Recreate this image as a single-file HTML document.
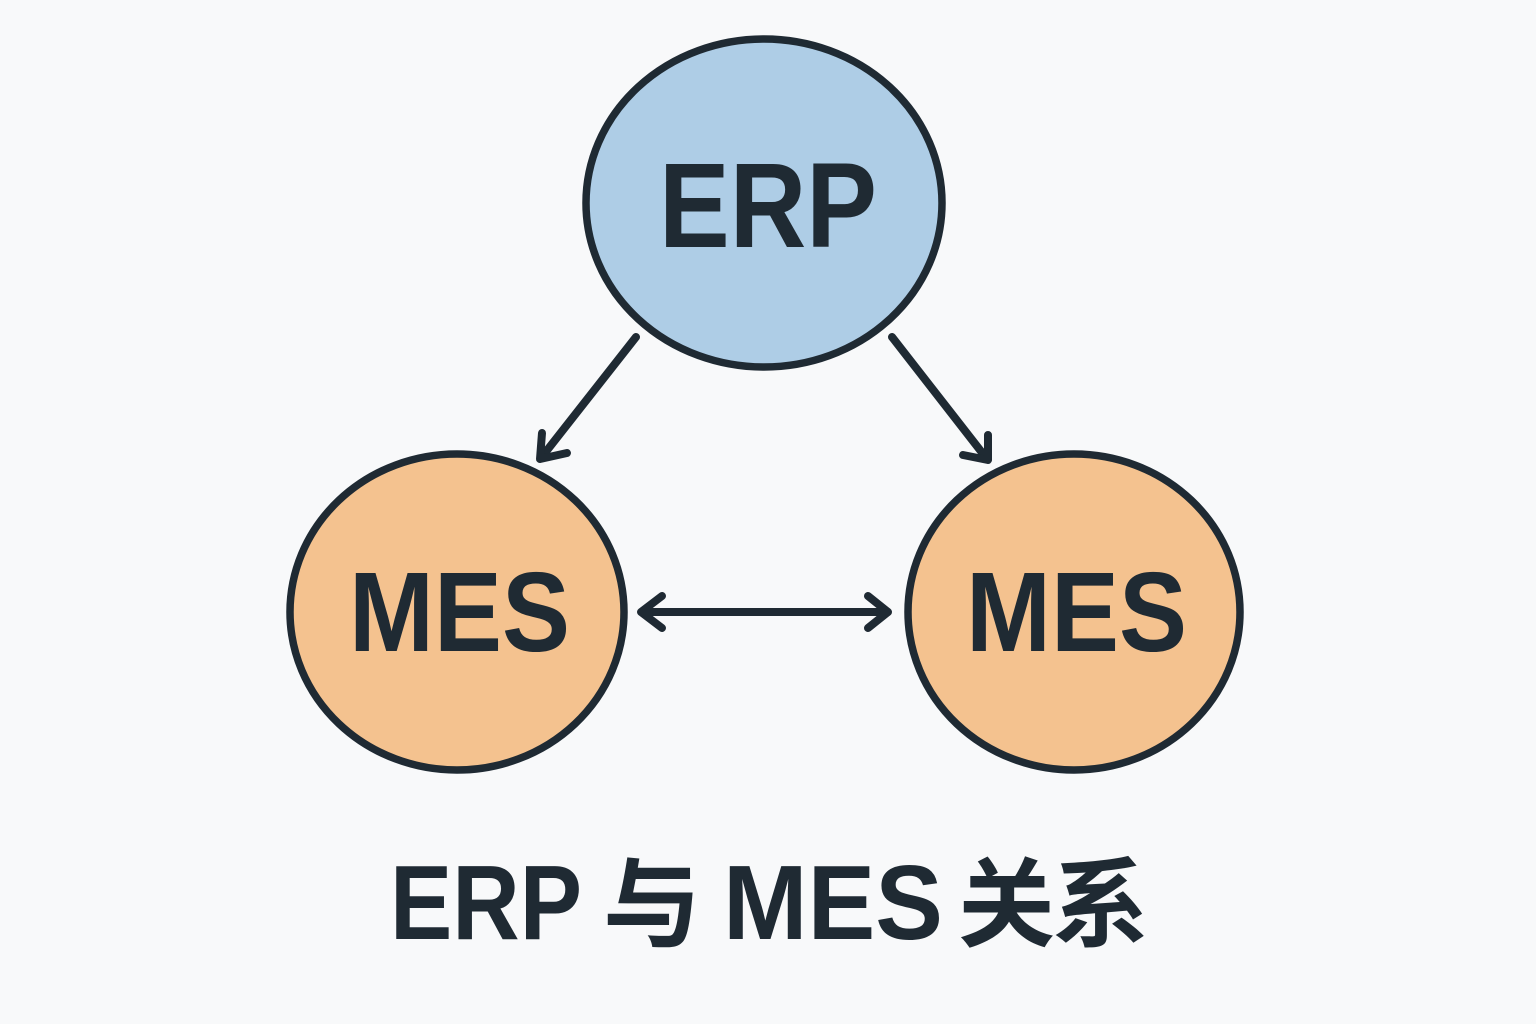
<!DOCTYPE html>
<html>
<head>
<meta charset="utf-8">
<style>
  html, body { margin: 0; padding: 0; background: #f8f9fa; }
  body { width: 1536px; height: 1024px; overflow: hidden; }
  svg { display: block; }
  .lbl { font-family: "Liberation Sans", "Noto Sans CJK SC", sans-serif; font-weight: bold; fill: #1f2a33; }
  .cjk { font-family: "Noto Sans CJK SC", "WenQuanYi Zen Hei", sans-serif; font-weight: bold; fill: #1f2a33; }
</style>
</head>
<body>
<svg width="1536" height="1024" viewBox="0 0 1536 1024" xmlns="http://www.w3.org/2000/svg">
  <rect x="0" y="0" width="1536" height="1024" fill="#f8f9fa"/>

  <!-- ERP node -->
  <ellipse cx="764" cy="203" rx="178" ry="164" fill="#aecde6" stroke="#1f2a33" stroke-width="7.5"/>
  <text class="lbl" x="659" y="247" font-size="121" textLength="218" lengthAdjust="spacingAndGlyphs">ERP</text>

  <!-- Left MES node -->
  <ellipse cx="457" cy="612" rx="167" ry="158" fill="#f4c28f" stroke="#1f2a33" stroke-width="7.5"/>
  <text class="lbl" x="349" y="651" font-size="113" textLength="221" lengthAdjust="spacingAndGlyphs">MES</text>

  <!-- Right MES node -->
  <ellipse cx="1074" cy="612" rx="166" ry="158" fill="#f4c28f" stroke="#1f2a33" stroke-width="7.5"/>
  <text class="lbl" x="966" y="651" font-size="113" textLength="221" lengthAdjust="spacingAndGlyphs">MES</text>

  <!-- Arrows -->
  <g stroke="#1f2a33" stroke-width="8" stroke-linecap="round" stroke-linejoin="round" fill="none">
    <line x1="636" y1="337" x2="541" y2="458"/>
    <polyline points="542,433 540,459 567,453"/>

    <line x1="892" y1="337" x2="987" y2="459"/>
    <polyline points="963,455 988,460 988,435"/>

    <line x1="642" y1="612" x2="887" y2="612"/>
    <polyline points="662,596 641,612 662,628"/>
    <polyline points="868,596 888,612 868,628"/>
  </g>

  <!-- Title -->
  <text class="lbl" x="390" y="939" font-size="106" textLength="192" lengthAdjust="spacingAndGlyphs">ERP</text>
  <text class="cjk" x="603" y="939" font-size="98">与</text>
  <text class="lbl" x="723" y="939" font-size="106" textLength="220" lengthAdjust="spacingAndGlyphs">MES</text>
  <text class="cjk" x="958" y="939" font-size="97">关</text>
  <text class="cjk" x="1052" y="939" font-size="97">系</text>
</svg>
</body>
</html>
